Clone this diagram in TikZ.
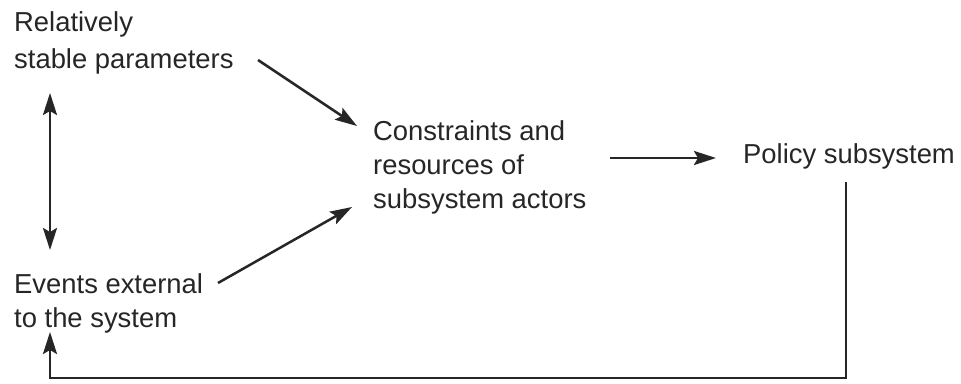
\documentclass[tikz,border=0pt]{standalone}
\usepackage{fontspec}
\setmainfont{Liberation Sans}
\usetikzlibrary{arrows.meta}
\begin{document}
\begin{tikzpicture}[x=1pt,y=-1pt,
  lbl/.style={anchor=base west, inner sep=0pt, align=left,
    font=\fontsize{27.4}{34}\selectfont, text=black!85},
  tip/.tip={Stealth[length=22pt,width=14pt,inset=4pt]},
  conn/.style={line width=2.5pt, draw=black!85, -tip},
  both/.style={line width=2.5pt, draw=black!85, tip-tip},
]
\useasboundingbox[fill=white] (0,0) rectangle (961,383);
\node[lbl, font=\fontsize{27.4}{37}\selectfont] (rsp) at (14,68) {Relatively\\stable parameters};
\node[lbl] (ext) at (14,327) {Events external\\to the system};
\node[lbl] (con) at (373,208) {Constraints and\\resources of\\subsystem actors};
\node[lbl] (pol) at (743,163) {Policy subsystem};
% connector end points
\coordinate (rspR) at (258,60);
\coordinate (conTL) at (357,126);
\coordinate (extR) at (218,283);
\coordinate (conBL) at (352,207);
\coordinate (conR) at (610,158);
\coordinate (polL) at (716,158);
\coordinate (rspB) at (50,93);
\coordinate (extT) at (50,250);
\coordinate (polB) at (846,182);
\coordinate (extB) at (50,332);
\draw[conn] (rspR) -- (conTL);
\draw[conn] (extR) -- (conBL);
\draw[conn] (conR) -- (polL);
\draw[both] (rspB) -- (extT);
\draw[conn] (polB) -- (846,378) -| (extB);
\end{tikzpicture}
\end{document}
